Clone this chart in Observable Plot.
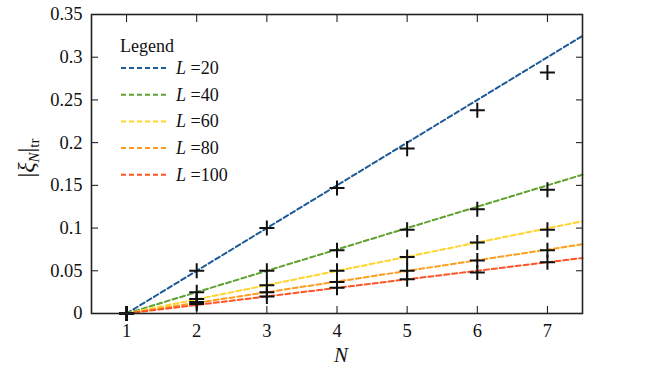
<!DOCTYPE html>
<html>
<head>
<meta charset="utf-8">
<script src="https://cdn.jsdelivr.net/npm/d3@7"></script>
<script src="https://cdn.jsdelivr.net/npm/@observablehq/plot@0.6"></script>
<style>
  html, body { margin: 0; padding: 0; background: #fff; }
  #wrap { position: relative; width: 654px; height: 381px; font-family: 'Liberation Serif', 'Times New Roman', serif; color: #111; }
  #wrap svg { display: block; }
  #wrap svg text { font-family: 'Liberation Serif', 'Times New Roman', serif; }
  .ov { position: absolute; white-space: nowrap; font-family: 'Liberation Serif', 'Times New Roman', serif; color: #111; }
</style>
</head>
<body>
<div id="wrap"></div>
<script>
// ---- data ----
const N = [1, 2, 3, 4, 5, 6, 7];
const L_values = [20, 40, 60, 80, 100];
const xi_L20  = [0, 0.050, 0.100, 0.147, 0.193, 0.238, 0.282];
const xi_L40  = [0, 0.025, 0.050, 0.074, 0.098, 0.122, 0.145];
const xi_L60  = [0, 0.017, 0.033, 0.050, 0.066, 0.083, 0.098];
const xi_L80  = [0, 0.0135, 0.025, 0.037, 0.050, 0.062, 0.074];
const xi_L100 = [0, 0.011, 0.020, 0.030, 0.040, 0.048, 0.060];
// fitted dashed lines, endpoints at N = 1 and N = 7.5
const fitN = [1, 7.5];
const fit_L20  = [0, 0.325];
const fit_L40  = [0, 0.1625];
const fit_L60  = [0, 0.108];
const fit_L80  = [0, 0.081];
const fit_L100 = [0, 0.065];
const colors = ["#1d5a98", "#5ea12e", "#ffd42c", "#ff9d1e", "#ff5324"];
const xTicks = [1, 2, 3, 4, 5, 6, 7];
const xTickLabels = ["1", "2", "3", "4", "5", "6", "7"];
const yTicks = [0, 0.05, 0.1, 0.15, 0.2, 0.25, 0.3, 0.35];
const yTickLabels = ["0", "0.05", "0.1", "0.15", "0.2", "0.25", "0.3", "0.35"];
const legendTitle = "Legend";

// ---- build tables ----
const series = [xi_L20, xi_L40, xi_L60, xi_L80, xi_L100];
const fits = [fit_L20, fit_L40, fit_L60, fit_L80, fit_L100];
const points = [];
series.forEach((vals, i) => vals.forEach((v, j) => points.push({N: N[j], xi: v, L: L_values[i]})));
const fitRows = [];
fits.forEach((vals, i) => vals.forEach((v, j) => fitRows.push({N: fitN[j], xi: v, L: L_values[i]})));

const plot = Plot.plot({
  width: 654,
  height: 381,
  marginLeft: 91,
  marginRight: 72,
  marginTop: 14,
  marginBottom: 68,
  style: {fontFamily: "'Liberation Serif', 'Times New Roman', serif", fontSize: "18.5px", color: "#111", background: "#fff"},
  x: {domain: [0.5, 7.5]},
  y: {domain: [0, 0.35]},
  color: {domain: L_values, range: colors},
  marks: [
    Plot.line(fitRows, {x: "N", y: "xi", z: "L", stroke: "L", strokeWidth: 2, strokeDasharray: "5,3"}),
    Plot.dot(points, {x: "N", y: "xi", symbol: "plus", r: 4.9, stroke: "#111", strokeWidth: 2}),
    Plot.axisX({ticks: xTicks, tickSize: 0, tickPadding: 10, tickFormat: (d) => xTickLabels[xTicks.indexOf(d)], label: null}),
    Plot.axisX({ticks: xTicks, tickSize: -7, tickFormat: () => "", label: null}),
    Plot.axisX({anchor: "top", ticks: xTicks, tickSize: -7, tickFormat: () => "", label: null}),
    Plot.axisY({ticks: yTicks, tickSize: 0, tickPadding: 9, tickFormat: (d) => yTickLabels[yTicks.indexOf(d)], label: null}),
    Plot.axisY({ticks: yTicks, tickSize: -7, tickFormat: () => "", label: null}),
    Plot.axisY({anchor: "right", ticks: yTicks, tickSize: -7, tickFormat: () => "", label: null}),
    Plot.frame({stroke: "#222", strokeWidth: 1.6})
  ]
});

const wrap = document.getElementById("wrap");
wrap.appendChild(plot);

// axis labels
const xl = document.createElement("div");
xl.className = "ov";
xl.style.cssText = "left:334px; top:343px; font-size:21px; font-style:italic;";
xl.textContent = "N";
wrap.appendChild(xl);

const yl = document.createElement("div");
yl.className = "ov";
yl.style.cssText = "left:28px; top:158px; font-size:24px; transform: translate(-50%,-50%) rotate(-90deg);";
yl.innerHTML = "|<i>ξ</i><sub style='font-size:15px'><i>N</i></sub>|<sub style='font-size:15px'>tr</sub>";
wrap.appendChild(yl);

// legend
const lg = document.createElementNS("http://www.w3.org/2000/svg", "svg");
lg.setAttribute("width", 120);
lg.setAttribute("height", 160);
lg.style.cssText = "position:absolute; left:110px; top:30px;";
let html = `<text x="10" y="22" font-size="18" fill="#111">${legendTitle}</text>`;
L_values.forEach((L, i) => {
  const y = 38 + i * 26.7;
  html += `<line x1="11" x2="56" y1="${y}" y2="${y}" stroke="${colors[i]}" stroke-width="2" stroke-dasharray="5,3"/>`;
  html += `<text x="66" y="${y + 6}" font-size="18" fill="#111"><tspan font-style="italic">L</tspan> =${L}</text>`;
});
lg.innerHTML = html;
wrap.appendChild(lg);
</script>
</body>
</html>
